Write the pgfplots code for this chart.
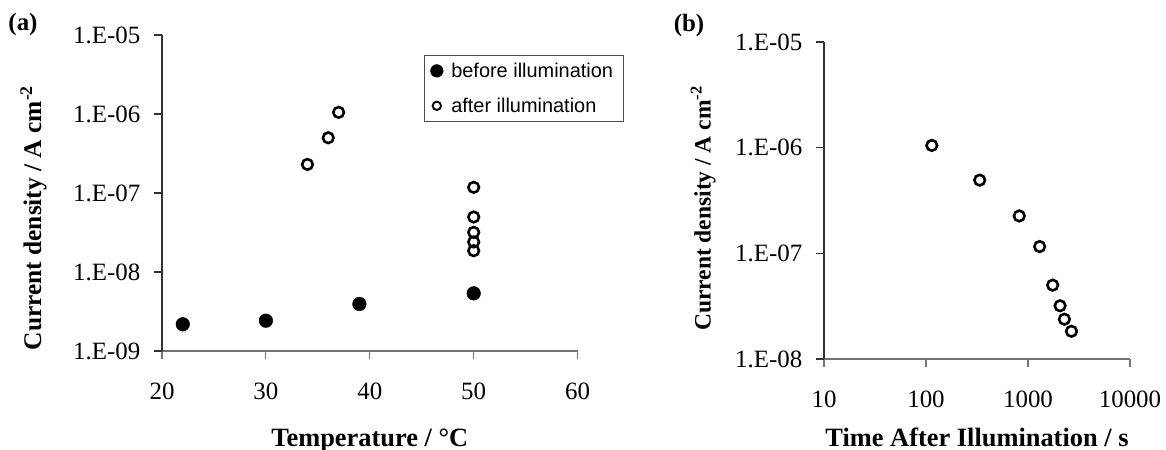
\documentclass[border=0pt]{standalone}
\usepackage{pgfplots}
\pgfplotsset{compat=1.18}
\usepackage{pgfplotstable}
\usepackage{fontspec}
\setmainfont{Liberation Serif}
\setsansfont{Liberation Sans}

\pgfplotstableread{
x y
22 2.18e-9
30 2.42e-9
39 3.94e-9
50 5.37e-9
}\before
\pgfplotstableread{
x y
34 2.30e-7
36 5.00e-7
37 1.05e-6
50 1.18e-7
50 4.97e-8
50 3.18e-8
50 2.40e-8
50 1.86e-8
}\after
\pgfplotstableread{
x y
114 1.05e-6
336 4.93e-7
821 2.26e-7
1300 1.16e-7
1746 5.00e-8
2063 3.19e-8
2274 2.38e-8
2667 1.83e-8
}\timeseries

\pgfplotsset{
  common/.style={
    scale only axis,
    axis x line*=bottom, axis y line*=left,
    axis line style={line width=1.1bp},
    x axis line style={black!55},
    y axis line style={black!80},
    every tick/.style={line width=1.1bp},
    xtick style={black!55},
    ytick style={black!80},
    tick align=inside,
    major tick length=-8bp,
    xminorticks=false, yminorticks=false,
    xticklabel style={font=\fontsize{25}{30}\selectfont, anchor=base, inner sep=0pt, yshift=-48.5bp},
    yticklabel style={font=\fontsize{25}{30}\selectfont, anchor=east, inner sep=0pt, xshift=-21.5bp},
  },
  filledmk/.style={only marks, mark=*, mark size=6.8bp, mark options={fill=black, draw=black, line width=0.5bp}},
  openmk/.style={only marks, mark=o, mark size=5.3bp, mark options={draw=black, line width=2.6bp}},
}

\begin{document}
\begin{tikzpicture}
\useasboundingbox (0bp,0bp) rectangle (1166bp,450bp);

\begin{axis}[common,
  at={(162bp,99bp)}, anchor=south west,
  width=415.6bp, height=316bp,
  xmin=20, xmax=60, xtick={20,30,40,50,60},
  ymode=log, ymin=1e-9, ymax=1e-5,
  ytick={1e-9,1e-8,1e-7,1e-6,1e-5},
  yticklabels={1.E-09,1.E-08,1.E-07,1.E-06,1.E-05},
  xticklabels={20,30,40,50,60},
  xlabel={Temperature / \textdegree C},
  ylabel={Current density / A cm\textsuperscript{-2}},
  xlabel style={font=\bfseries\fontsize{26.5}{30}\selectfont, at={(axis description cs:0.5,-0.302)}, anchor=base, inner sep=0pt},
  ylabel style={font=\bfseries\fontsize{25.5}{30}\selectfont, at={(axis description cs:-0.309,0.421)}, anchor=center, inner sep=0pt},
  legend style={at={(axis description cs:0.630,0.937)}, anchor=north west,
    draw=black!70, line width=1bp, fill=white,
    font=\sffamily\fontsize{20}{24}\selectfont,
    inner xsep=0pt, inner ysep=7.5bp, row sep=19bp,
    nodes={inner sep=0pt}, cells={anchor=west}},
]
\addplot[filledmk,
  legend image code/.code={\path (0bp,0bp) (26bp,0bp); \draw[only marks, mark=*, mark size=6.3bp, mark options={fill=black, draw=black, line width=0.5bp}] plot coordinates {(12bp,0bp)};}]
  table[x=x,y=y] {\before};
\addlegendentry{before illumination\kern10bp}
\addplot[openmk,
  legend image code/.code={\path (0bp,0bp) (26bp,0bp); \draw[only marks, mark=o, mark size=4.2bp, mark options={draw=black, line width=1.9bp}] plot coordinates {(12bp,0bp)};}]
  table[x=x,y=y] {\after};
\addlegendentry{after illumination}
\end{axis}

\begin{axis}[common,
  at={(824bp,91bp)}, anchor=south west,
  width=306bp, height=317bp,
  xmode=log, xmin=10, xmax=10000,
  xtick={10,100,1000,10000},
  xticklabels={10,100,1000,10000},
  ymode=log, ymin=1e-8, ymax=1e-5,
  ytick={1e-8,1e-7,1e-6,1e-5},
  yticklabels={1.E-08,1.E-07,1.E-06,1.E-05},
  xlabel={Time After Illumination / s},
  ylabel={Current density / A cm\textsuperscript{-2}},
  xlabel style={font=\bfseries\fontsize{26.5}{30}\selectfont, at={(axis description cs:0.5,-0.276)}, anchor=base, inner sep=0pt},
  ylabel style={font=\bfseries\fontsize{23.6}{28}\selectfont, at={(axis description cs:-0.395,0.475)}, anchor=center, inner sep=0pt},
]
\addplot[openmk] table[x=x,y=y] {\timeseries};
\end{axis}

\node[font=\bfseries\fontsize{25}{30}\selectfont, inner sep=0pt] at (23bp,425bp) {(a)};
\node[font=\bfseries\fontsize{25}{30}\selectfont, inner sep=0pt] at (689bp,424bp) {(b)};
\end{tikzpicture}
\end{document}
